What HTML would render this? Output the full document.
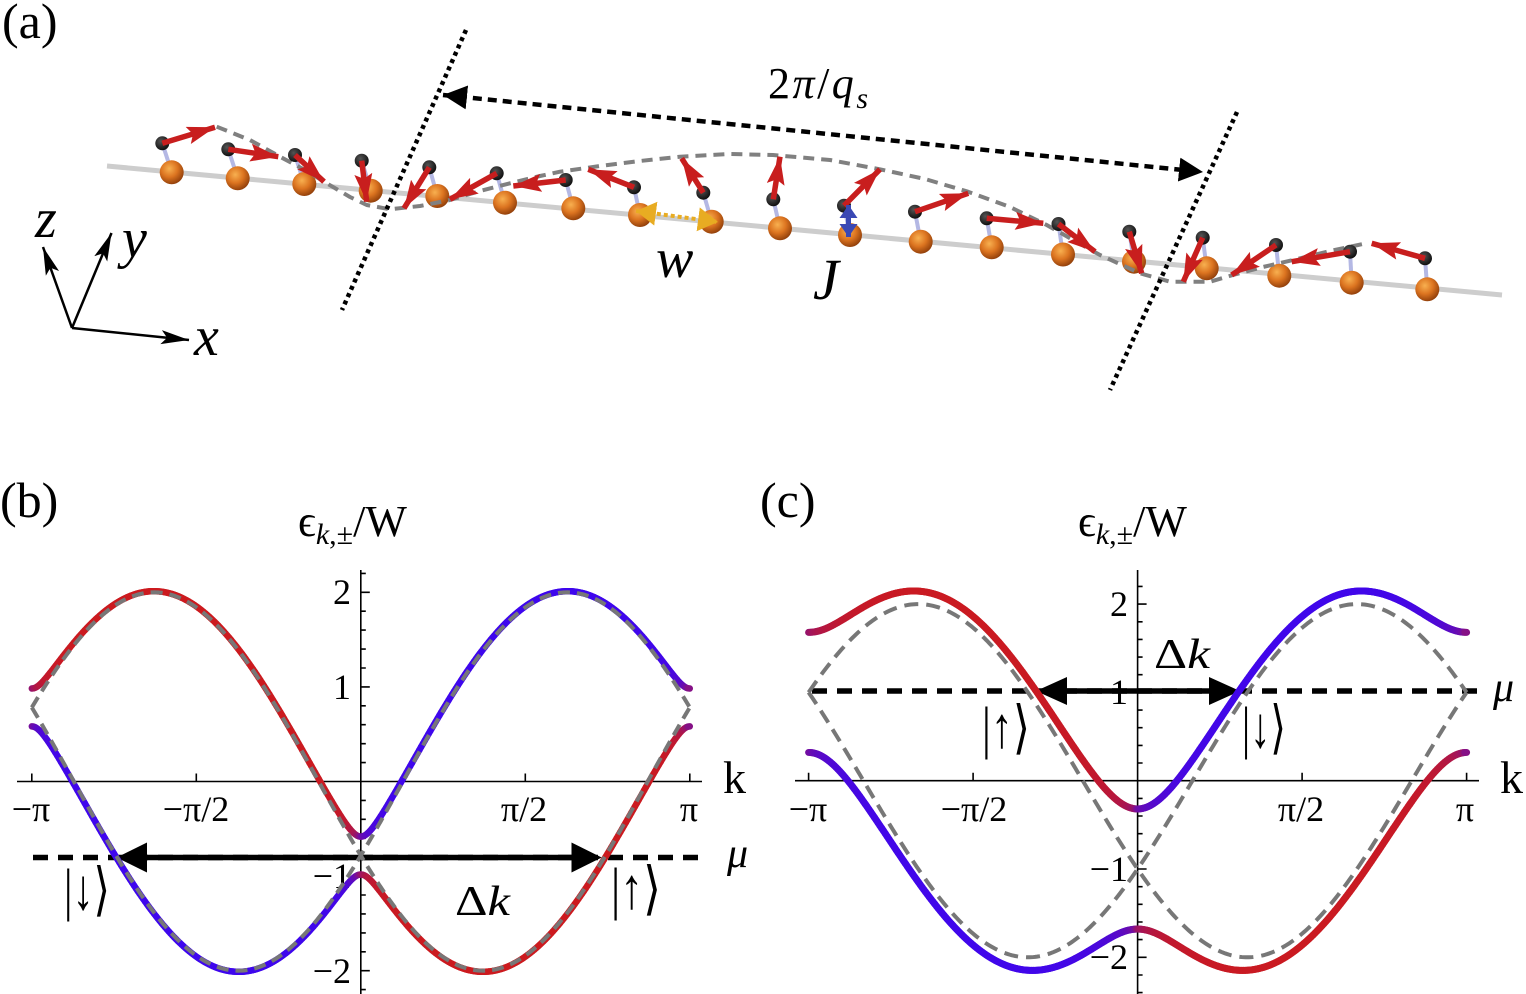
<!DOCTYPE html>
<html><head><meta charset="utf-8">
<style>
html,body{margin:0;padding:0;background:#fff;}
svg{display:block;}
text{font-family:"Liberation Serif","DejaVu Serif",serif;fill:#000;}
</style></head>
<body>
<svg id="s" xmlns="http://www.w3.org/2000/svg" width="1526" height="994" viewBox="0 0 1526 994">
<defs>
<radialGradient id="sph" cx="0.4" cy="0.35" r="0.7">
<stop offset="0" stop-color="#f8b050"/><stop offset="0.5" stop-color="#dc7420"/><stop offset="1" stop-color="#8a3a08"/>
</radialGradient>
<radialGradient id="bal" cx="0.4" cy="0.35" r="0.7">
<stop offset="0" stop-color="#555"/><stop offset="1" stop-color="#0a0a0a"/>
</radialGradient>
<marker id="rh" markerUnits="userSpaceOnUse" markerWidth="34" markerHeight="22" refX="28" refY="9" orient="auto"><path d="M0,0 L28,9 L0,18 L5,9z" fill="#c81e1e"/></marker>
<marker id="bh" markerUnits="userSpaceOnUse" markerWidth="30" markerHeight="30" refX="24" refY="12" orient="auto-start-reverse"><path d="M0,0 L24,12 L0,24z" fill="#000"/></marker>
<marker id="th" markerUnits="userSpaceOnUse" markerWidth="32" markerHeight="16" refX="28" refY="7" orient="auto"><path d="M0,0 L28,7 L0,14 L6,7z" fill="#000"/></marker>
<marker id="yh" markerUnits="userSpaceOnUse" markerWidth="24" markerHeight="26" refX="20" refY="12" orient="auto-start-reverse"><path d="M0,0 L20,12 L0,24z" fill="#e8ac22"/></marker>
<marker id="uh" markerUnits="userSpaceOnUse" markerWidth="18" markerHeight="20" refX="13" refY="9" orient="auto-start-reverse"><path d="M0,0 L13,9 L0,18z" fill="#3a48b4"/></marker>
</defs>

<!-- ===== Panel (a) ===== -->
<text x="2" y="38" font-size="50">(a)</text>
<line x1="107" y1="166" x2="1502" y2="295" stroke="#cdcdcd" stroke-width="5"/>

<g stroke="#b4b8e4" stroke-width="4">
<line x1="162.3" y1="143.3" x2="171.7" y2="172.3"/><line x1="228.3" y1="149.3" x2="237.7" y2="178.3"/>
<line x1="295" y1="155" x2="304.3" y2="184"/><line x1="361.7" y1="160.7" x2="370.7" y2="190.7"/>
<line x1="429.3" y1="167.3" x2="437.3" y2="196"/><line x1="496.7" y1="173.3" x2="505" y2="202.7"/>
<line x1="565.7" y1="180" x2="573.3" y2="208.3"/><line x1="634" y1="187.3" x2="640" y2="215"/>
<line x1="703.3" y1="192.7" x2="711.7" y2="221.7"/><line x1="773.3" y1="199.3" x2="780" y2="228.3"/>
<line x1="844" y1="205.7" x2="850" y2="235"/><line x1="915" y1="211.7" x2="920.7" y2="241.7"/>
<line x1="986.7" y1="218.3" x2="991.7" y2="247.3"/><line x1="1058.5" y1="224" x2="1063" y2="254.5"/>
<line x1="1129.3" y1="231.7" x2="1134" y2="261.7"/><line x1="1202.7" y1="237.7" x2="1206.7" y2="268.3"/>
<line x1="1276" y1="245" x2="1279.3" y2="275.7"/><line x1="1350" y1="251.7" x2="1351.7" y2="282.7"/>
<line x1="1425" y1="258.3" x2="1427.3" y2="289.3"/>
</g>
<g fill="url(#sph)">
<circle cx="171.7" cy="172.3" r="12"/><circle cx="237.7" cy="178.3" r="12"/><circle cx="304.3" cy="184" r="12"/>
<circle cx="370.7" cy="190.7" r="12"/><circle cx="437.3" cy="196" r="12"/><circle cx="505" cy="202.7" r="12"/>
<circle cx="573.3" cy="208.3" r="12"/><circle cx="640" cy="215" r="12"/><circle cx="711.7" cy="221.7" r="12"/>
<circle cx="780" cy="228.3" r="12"/><circle cx="850" cy="235" r="12"/><circle cx="920.7" cy="241.7" r="12"/>
<circle cx="991.7" cy="247.3" r="12"/><circle cx="1063" cy="254.5" r="12"/><circle cx="1134" cy="261.7" r="12"/>
<circle cx="1206.7" cy="268.3" r="12"/><circle cx="1279.3" cy="275.7" r="12"/><circle cx="1351.7" cy="282.7" r="12"/>
<circle cx="1427.3" cy="289.3" r="12"/>
</g>
<path d="M216.7,126.7 L250,140 L280,156.7 L305,170 L326.7,183.3 L350,197 L366.7,205 L390,209.3 L420,206 L450,200 L480,191 L510,183.3 L540,176 L560,171.7 L600,166 L640,161 L680,156.7 L730,154 L773,155 L830,160 L880,169.3 L925,179 L968,191.7 L1010,207 L1046.7,225 L1075,241 L1100,255 L1140,273.3 L1170,281.7 L1210,281.7 L1233,275 L1263,267 L1293,260 L1330,251 L1363,244" fill="none" stroke="#808080" stroke-width="4" stroke-dasharray="11 7" stroke-linejoin="round"/>
<g fill="url(#bal)">
<circle cx="162.3" cy="143.3" r="7"/><circle cx="228.3" cy="149.3" r="7"/><circle cx="295" cy="155" r="7"/>
<circle cx="361.7" cy="160.7" r="7"/><circle cx="429.3" cy="167.3" r="7"/><circle cx="496.7" cy="173.3" r="7"/>
<circle cx="565.7" cy="180" r="7"/><circle cx="634" cy="187.3" r="7"/><circle cx="703.3" cy="192.7" r="7"/>
<circle cx="773.3" cy="199.3" r="7"/><circle cx="844" cy="205.7" r="7"/><circle cx="915" cy="211.7" r="7"/>
<circle cx="986.7" cy="218.3" r="7"/><circle cx="1058.5" cy="224" r="7"/><circle cx="1129.3" cy="231.7" r="7"/>
<circle cx="1202.7" cy="237.7" r="7"/><circle cx="1276" cy="245" r="7"/><circle cx="1350" cy="251.7" r="7"/>
<circle cx="1425" cy="258.3" r="7"/>
</g>
<g stroke="#c81e1e" stroke-width="5.5" marker-end="url(#rh)">
<line x1="162.3" y1="143.3" x2="215" y2="127.3"/>
<line x1="228.3" y1="149.3" x2="278.3" y2="156.7"/>
<line x1="295" y1="155" x2="324" y2="181.7"/>
<line x1="361.7" y1="160.7" x2="366.7" y2="201.7"/>
<line x1="429.3" y1="167.3" x2="404" y2="208.3"/>
<line x1="496.7" y1="173.3" x2="450" y2="199.3"/>
<line x1="565.7" y1="180" x2="513.3" y2="186"/>
<line x1="634" y1="187.3" x2="588.3" y2="169.3"/>
<line x1="703.3" y1="192.7" x2="681.7" y2="158.3"/>
<line x1="773.3" y1="199.3" x2="780" y2="156.7"/>
<line x1="844" y1="205.7" x2="880" y2="169.3"/>
<line x1="915" y1="211.7" x2="968.3" y2="193.3"/>
<line x1="986.7" y1="218.3" x2="1043.3" y2="223.3"/>
<line x1="1058.5" y1="224" x2="1095" y2="251.7"/>
<line x1="1129.3" y1="231.7" x2="1141.7" y2="273.3"/>
<line x1="1202.7" y1="237.7" x2="1183.3" y2="281.7"/>
<line x1="1276" y1="245" x2="1231.7" y2="275"/>
<line x1="1350" y1="251.7" x2="1291.7" y2="261.7"/>
<line x1="1425" y1="258.3" x2="1371.7" y2="243.3"/>
</g>
<line x1="636" y1="211" x2="718" y2="222" stroke="#e8ac22" stroke-width="4" stroke-dasharray="4 3" marker-start="url(#yh)" marker-end="url(#yh)"/>
<line x1="848.5" y1="205" x2="848.5" y2="237" stroke="#3a48b4" stroke-width="5" marker-start="url(#uh)" marker-end="url(#uh)"/>
<text x="656" y="277" font-size="56" font-style="italic">w</text>
<text x="813" y="299" font-size="58" font-style="italic">J</text>

<line x1="466" y1="30" x2="342" y2="310" stroke="#000" stroke-width="4.5" stroke-dasharray="4 4"/>
<line x1="1237" y1="112" x2="1110" y2="390" stroke="#000" stroke-width="4.5" stroke-dasharray="4 4"/>
<line x1="443" y1="95" x2="1203" y2="172" stroke="#000" stroke-width="4.5" stroke-dasharray="9 6" marker-start="url(#bh)" marker-end="url(#bh)"/>
<text x="768" y="98" font-size="44" textLength="100" lengthAdjust="spacing">2<tspan font-style="italic">π</tspan>/<tspan font-style="italic">q</tspan><tspan font-size="30" font-style="italic" dy="10">s</tspan></text>

<g stroke="#000" stroke-width="2.5" marker-end="url(#th)">
<line x1="72" y1="328" x2="189" y2="340"/>
<line x1="72" y1="328" x2="43" y2="247"/>
<line x1="72" y1="328" x2="111.5" y2="233"/>
</g>
<text x="35" y="237" font-size="56" font-style="italic">z</text>
<text x="122" y="257" font-size="56" font-style="italic">y</text>
<text x="194" y="355" font-size="56" font-style="italic">x</text>

<!-- ===== Panel (b) ===== -->
<text x="0" y="517" font-size="50">(b)</text>
<text x="298" y="536" font-size="44">ϵ<tspan font-size="30" font-style="italic" dy="8">k</tspan><tspan font-size="30" dy="0">,±</tspan><tspan dy="-8">/W</tspan></text>
<g stroke="#000" stroke-width="1.6" fill="none">
<line x1="17" y1="781.5" x2="702" y2="781.5"/>
<line x1="360.8" y1="570" x2="360.8" y2="994"/>
<path d="M360.8,573.4h5 M360.8,592.3h9 M360.8,611.2h5 M360.8,630.1h5 M360.8,649.1h5 M360.8,668h5 M360.8,686.9h9 M360.8,705.8h5 M360.8,724.7h5 M360.8,743.7h5 M360.8,762.6h5 M360.8,800.4h5 M360.8,819.3h5 M360.8,838.3h5 M360.8,857.2h5 M360.8,876.1h9 M360.8,895h5 M360.8,913.9h5 M360.8,932.9h5 M360.8,951.8h5 M360.8,970.7h9 M360.8,989.6h5 M31.8,781.5v-8 M196.3,781.5v-8 M525.3,781.5v-8 M689.8,781.5v-8"/>
</g>
<g font-size="36" text-anchor="end">
<text x="351" y="604">2</text><text x="351" y="699">1</text><text x="351" y="888">−1</text><text x="351" y="983">−2</text>
</g>
<g font-size="36" text-anchor="middle">
<text x="31" y="821">−π</text><text x="196" y="821">−π/2</text><text x="524" y="821">π/2</text><text x="689" y="821">π</text>
</g>
<text x="723" y="793" font-size="46">k</text>
<line x1="33" y1="857.5" x2="707" y2="857.5" stroke="#000" stroke-width="5.5" stroke-dasharray="15 10"/>
<line x1="140" y1="857.5" x2="578" y2="857.5" stroke="#000" stroke-width="5.5"/>
<polygon points="116.7,857.5 147,842.5 147,872.5" fill="#000"/>
<polygon points="601.7,857.5 571.5,842.5 571.5,872.5" fill="#000"/>
<text x="727" y="867" font-size="42" font-style="italic">μ</text>

<!-- ===== Panel (c) ===== -->
<text x="760" y="517" font-size="50">(c)</text>
<text x="1078" y="536" font-size="44">ϵ<tspan font-size="30" font-style="italic" dy="8">k</tspan><tspan font-size="30" dy="0">,±</tspan><tspan dy="-8">/W</tspan></text>
<g stroke="#000" stroke-width="1.6" fill="none">
<line x1="795" y1="780.7" x2="1479" y2="780.7"/>
<line x1="1137.6" y1="570" x2="1137.6" y2="994"/>
<path d="M1137.6,586.4h5 M1137.6,604.1h9 M1137.6,621.8h5 M1137.6,639.4h5 M1137.6,657.1h5 M1137.6,674.7h5 M1137.6,692.4h9 M1137.6,710.1h5 M1137.6,727.7h5 M1137.6,745.4h5 M1137.6,763h5 M1137.6,798.4h5 M1137.6,816h5 M1137.6,833.7h5 M1137.6,851.3h5 M1137.6,869h9 M1137.6,886.7h5 M1137.6,904.3h5 M1137.6,922h5 M1137.6,939.6h5 M1137.6,957.3h9 M1137.6,975h5 M1137.6,992.6h5 M808.6,780.7v-8 M973.1,780.7v-8 M1302.1,780.7v-8 M1466.6,780.7v-8"/>
</g>
<g font-size="36" text-anchor="end">
<text x="1128" y="616">2</text><text x="1128" y="704">1</text><text x="1128" y="881">−1</text><text x="1128" y="969">−2</text>
</g>
<g font-size="36" text-anchor="middle">
<text x="808" y="821">−π</text><text x="974" y="821">−π/2</text><text x="1301" y="821">π/2</text><text x="1465" y="821">π</text>
</g>
<text x="1500" y="793" font-size="46">k</text>
<line x1="812" y1="691" x2="1485" y2="691" stroke="#000" stroke-width="5.5" stroke-dasharray="15 10"/>
<line x1="1060" y1="691" x2="1216" y2="691" stroke="#000" stroke-width="5.5"/>
<polygon points="1036,691 1067,677 1067,705" fill="#000"/>
<polygon points="1240,691 1209,677 1209,705" fill="#000"/>
<text x="1493" y="701" font-size="42" font-style="italic">μ</text>

<g id="bands"></g>

<text x="64" y="909" font-size="58" textLength="46" lengthAdjust="spacingAndGlyphs">|↓⟩</text>
<text x="455" y="915" font-size="42" textLength="55" lengthAdjust="spacingAndGlyphs">Δ<tspan font-style="italic">k</tspan></text>
<text x="611" y="908" font-size="58" textLength="50" lengthAdjust="spacingAndGlyphs">|↑⟩</text>
<text x="982" y="747" font-size="58" textLength="48" lengthAdjust="spacingAndGlyphs">|↑⟩</text>
<text x="1242" y="747" font-size="58" textLength="44" lengthAdjust="spacingAndGlyphs">|↓⟩</text>
<text x="1154" y="668" font-size="42" textLength="56" lengthAdjust="spacingAndGlyphs">Δ<tspan font-style="italic">k</tspan></text>
</svg>
<script>
(function(){
 var NS="http://www.w3.org/2000/svg";
 var g=document.getElementById('bands');
 var RED=[204,26,30], BLUE=[62,6,238];
 function mk(tag,attrs){var e=document.createElementNS(NS,tag);for(var k in attrs)e.setAttribute(k,attrs[k]);return e;}
 function draw(P){
   var N=360,a=P.a,J=P.J,ca=Math.cos(a),sa=Math.sin(a);
   function X(k){return P.cx+k/Math.PI*P.hw;}
   function Y(e){return P.y0-e*P.u;}
   [1,-1].forEach(function(sg){
     var prev=null;
     for(var i=0;i<=N;i++){
       var k=-Math.PI+2*Math.PI*i/N;
       var d=-2*Math.sin(k)*sa;
       var r=Math.sqrt(d*d+J*J);
       var e=-2*Math.cos(k)*ca+sg*r;
       var s=d/r; s=(s<0?-1:1)*Math.pow(Math.abs(s),P.p);
       var f=(1+sg*s)/2;
       var pt=[X(k),Y(e)];
       if(prev){
         var c='rgb('+Math.round(BLUE[0]+(RED[0]-BLUE[0])*f)+','+Math.round(BLUE[1]+(RED[1]-BLUE[1])*f)+','+Math.round(BLUE[2]+(RED[2]-BLUE[2])*f)+')';
         g.appendChild(mk('line',{x1:prev[0].toFixed(2),y1:prev[1].toFixed(2),x2:pt[0].toFixed(2),y2:pt[1].toFixed(2),stroke:c,'stroke-width':P.w,'stroke-linecap':'round'}));
       }
       prev=pt;
     }
   });
   [1,-1].forEach(function(sg){
     var pts=[];
     for(var i=0;i<=N;i++){var k=-Math.PI+2*Math.PI*i/N;pts.push(X(k).toFixed(2)+','+Y(-2*Math.cos(k+sg*a)).toFixed(2));}
     g.appendChild(mk('polyline',{points:pts.join(' '),fill:'none',stroke:'#777','stroke-width':P.dw,'stroke-dasharray':P.da}));
   });
 }
 draw({cx:360.8,hw:329,y0:781.5,u:94.6,a:0.372*Math.PI,J:0.2,p:0.8,w:6.5,dw:4,da:'12 7'});
 draw({cx:1137.6,hw:329,y0:780.7,u:88.3,a:Math.PI/3,J:0.68,p:0.45,w:7,dw:4,da:'14 8'});
})();
</script>
</body></html>
